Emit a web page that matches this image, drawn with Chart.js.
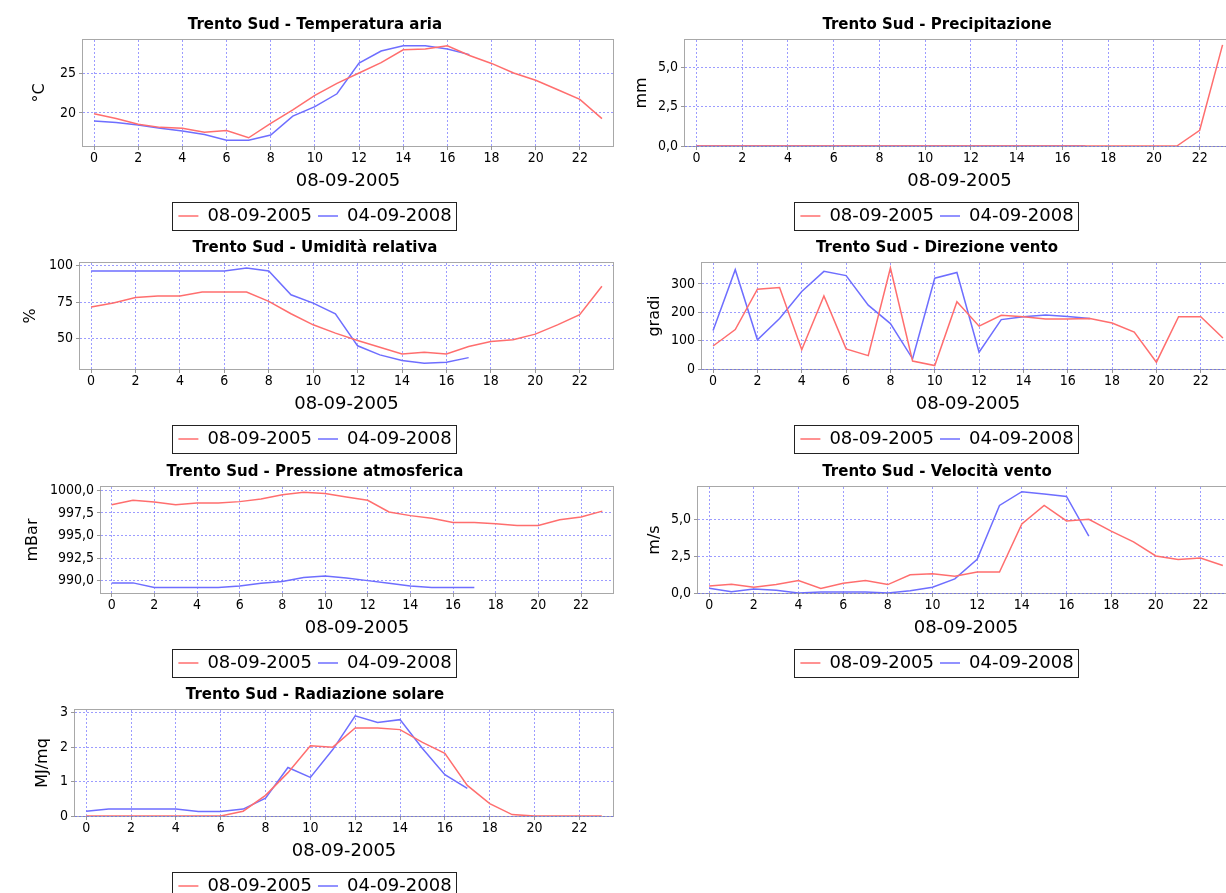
<!DOCTYPE html>
<html>
<head>
<meta charset="utf-8">
<script src="https://cdn.jsdelivr.net/npm/chart.js@4.4.1/dist/chart.umd.min.js"></script>
<style>
html,body{margin:0;padding:0;background:#fff;overflow:hidden;width:1226px;height:893px;}
#wrap{position:relative;width:1226px;height:893px;overflow:hidden;background:#fff;}
canvas{position:absolute;}
</style>
</head>
<body>
<div id="wrap">
<canvas id="c1"></canvas>
<canvas id="c3"></canvas>
<canvas id="c5"></canvas>
<canvas id="c7"></canvas>
<canvas id="c2"></canvas>
<canvas id="c4"></canvas>
<canvas id="c6"></canvas>
</div>
<script>
// ---------- DATA ----------
const station = 'Trento Sud';
const seriesNames = ['08-09-2005', '04-09-2008'];
const xAxisTitle = '08-09-2005';
const hours = [0,1,2,3,4,5,6,7,8,9,10,11,12,13,14,15,16,17,18,19,20,21,22,23];
const xTicks = [0,2,4,6,8,10,12,14,16,18,20,22];

const tempRed  = [19.9,19.3,18.6,18.2,18.1,17.6,17.8,16.9,18.7,20.4,22.2,23.7,25.0,26.3,27.9,28.0,28.4,27.2,26.2,25.0,24.1,22.9,21.7,19.3];
const tempBlue = [19.0,18.8,18.5,18.1,17.75,17.3,16.6,16.6,17.25,19.6,20.8,22.4,26.25,27.75,28.4,28.4,28.0,27.3];
const tempTicks = [20,25];

const precRed  = [0,0,0,0,0,0,0,0,0,0,0,0,0,0,0,0,0,0,0,0,0,0,1.0,6.43];
const precBlue = [0,0,0,0,0,0,0,0,0,0,0,0,0,0,0,0,0,0];
const precTicks = [0,2.5,5];

const humRed  = [71.6,74.3,78.2,79.1,79.1,81.9,81.9,81.9,75.5,67.0,59.4,53.7,48.6,44.0,39.4,40.6,39.4,44.5,47.9,49.1,53.0,59.4,66.3,85.8];
const humBlue = [96.3,96.3,96.3,96.3,96.3,96.3,96.3,98.4,96.3,80.0,74.3,67.0,45.0,38.8,34.9,33.0,33.7,36.9];
const humTicks = [50,75,100];

const dirRed  = [81,139,281,287,68,257,71,47,356,28,12,237,151,189,184,176,176,178,162,130,24,184,184,109];
const dirBlue = [136,350,103,178,273,344,329,225,160,36,320,340,59,174,184,190,185,178];
const dirTicks = [0,100,200,300];

const presRed  = [998.4,998.9,998.7,998.4,998.6,998.6,998.75,999.05,999.5,999.8,999.65,999.25,998.9,997.6,997.2,996.9,996.45,996.45,996.3,996.1,996.1,996.75,997.05,997.7];
const presBlue = [989.75,989.75,989.25,989.25,989.25,989.25,989.4,989.7,989.9,990.35,990.5,990.3,990.0,989.7,989.4,989.25,989.25,989.25];
const presTicks = [990,992.5,995,997.5,1000];

const windRed  = [0.48,0.59,0.39,0.57,0.84,0.30,0.66,0.84,0.57,1.23,1.30,1.14,1.42,1.42,4.68,5.94,4.89,5.0,4.2,3.47,2.51,2.28,2.37,1.87];
const windBlue = [0.32,0.09,0.27,0.18,0.0,0.07,0.07,0.07,0.0,0.16,0.39,0.96,2.28,5.94,6.87,6.71,6.55,3.86];
const windTicks = [0,2.5,5];

const radRed  = [0,0,0,0,0,0,0,0.14,0.6,1.26,2.04,2.0,2.56,2.56,2.51,2.14,1.82,0.89,0.36,0.04,0,0,0,0];
const radBlue = [0.14,0.2,0.2,0.2,0.2,0.13,0.13,0.2,0.52,1.41,1.12,1.93,2.91,2.72,2.8,1.96,1.2,0.8];
const radTicks = [0,1,2,3];

// ---------- STYLE ----------
const RED = 'rgb(255,110,110)';
const BLUE = 'rgb(110,110,255)';
const GRID = 'rgba(90,90,255,0.6)';
const FONT = '"DejaVu Sans", sans-serif';
const COND = '"DejaVu Sans Condensed", "DejaVu Sans", sans-serif';
Chart.defaults.font.family = FONT;
Chart.defaults.color = '#000';

const framePlugin = {
  id: 'frame',
  beforeDraw(chart) {
    const a = chart.chartArea, ctx = chart.ctx;
    ctx.save();
    ctx.strokeStyle = '#a8a8a8';
    ctx.lineWidth = 1;
    ctx.strokeRect(Math.round(a.left) - 0.5, Math.round(a.top) - 0.5, Math.round(a.right - a.left) + 1, Math.round(a.bottom - a.top) + 1);
    ctx.restore();
  }
};
const legendBoxPlugin = {
  id: 'legendBox',
  afterDraw(chart) {
    const hb = chart.legend && chart.legend.legendHitBoxes;
    if (!hb || !hb.length) return;
    const left = Math.min(...hb.map(h => h.left)) - 6;
    const right = Math.max(...hb.map(h => h.left + h.width)) + 5;
    const cy = hb[0].top + hb[0].height / 2;
    const ctx = chart.ctx;
    ctx.save();
    ctx.strokeStyle = '#222';
    ctx.lineWidth = 1;
    ctx.strokeRect(Math.round(left) + 0.5, Math.round(cy - 14) + 0.5, Math.round(right - left), 28);
    ctx.restore();
  }
};

function fmt(d) { return v => Number(v).toFixed(d).replace('.', ','); }

function makeChart(p) {
  const cv = document.getElementById(p.id);
  cv.width = p.w; cv.height = 235;
  cv.style.width = p.w + 'px'; cv.style.height = '235px';
  cv.style.left = p.x + 'px'; cv.style.top = p.y + 'px';
  const gridOpts = { color: GRID, lineWidth: 1, tickLength: 4, tickColor: '#999', tickWidth: 1, tickBorderDash: [10, 0] };
  const borderOpts = { display: false, dash: [2, 2] };
  new Chart(cv, {
    type: 'line',
    data: {
      labels: hours,
      datasets: [
        { label: seriesNames[0], data: p.red, borderColor: RED, backgroundColor: RED, borderWidth: 1.5, pointRadius: 0, tension: 0, fill: false },
        { label: seriesNames[1], data: p.blue, borderColor: BLUE, backgroundColor: BLUE, borderWidth: 1.5, pointRadius: 0, tension: 0, fill: false }
      ]
    },
    options: {
      responsive: false, animation: false, devicePixelRatio: 1,
      layout: { padding: 0 },
      events: [],
      plugins: {
        title: { display: true, text: station + ' - ' + p.title, color: '#000',
                 font: { family: FONT, size: 15, weight: 'bold' }, padding: { top: 16, bottom: 6 } },
        legend: { position: 'bottom',
                  labels: { usePointStyle: true, pointStyle: 'line', pointStyleWidth: 20, padding: 6,
                            color: '#000', font: { family: FONT, size: 18 } } },
        tooltip: { enabled: false }
      },
      scales: {
        x: {
          type: 'linear', min: -0.5, max: 23.5,
          afterBuildTicks: a => { a.ticks = xTicks.map(v => ({ value: v })); },
          afterFit: a => { a.height = 55; },
          ticks: { font: { family: COND, size: 14 }, color: '#000', padding: 0, autoSkip: false, maxRotation: 0, callback: v => String(v) },
          grid: gridOpts, border: borderOpts,
          title: { display: true, text: xAxisTitle, color: '#000', font: { family: FONT, size: 18 }, padding: { top: 0, bottom: 8.5 } }
        },
        y: {
          type: 'linear', min: p.min, max: p.max,
          afterBuildTicks: a => { a.ticks = p.ticks.map(v => ({ value: v })); },
          afterFit: a => { a.width = p.plotLeft; },
          ticks: { font: { family: COND, size: 14 }, color: '#000', padding: 3, callback: fmt(p.dec) },
          grid: gridOpts, border: borderOpts,
          title: { display: true, text: p.unit, color: '#000', font: { family: FONT, size: 16 }, padding: { top: p.yTitleX - 9.6, bottom: 0 } }
        },
        yR: {
          type: 'linear', position: 'right', display: true,
          grid: { display: false, drawTicks: false }, border: { display: false },
          ticks: { display: false },
          afterFit: a => { a.width = p.rightPad; }
        }
      }
    },
    plugins: [framePlugin, legendBoxPlugin]
  });
}

const L = { x: 0, w: 630, rightPad: 17 };
const R = { x: 613, w: 648, rightPad: 27 };
const charts = [
  Object.assign({ id: 'c1', y: 0,   title: 'Temperatura aria',     unit: '°C',    red: tempRed, blue: tempBlue, ticks: tempTicks, min: 15.87, max: 29.13, dec: 0, plotLeft: 83,  yTitleX: 39.5 }, L),
  Object.assign({ id: 'c3', y: 223, title: 'Umidità relativa',     unit: '%',     red: humRed,  blue: humBlue,  ticks: humTicks,  min: 29.1,  max: 101.8, dec: 0, plotLeft: 80,  yTitleX: 31 }, L),
  Object.assign({ id: 'c5', y: 447, title: 'Pressione atmosferica', unit: 'mBar', red: presRed, blue: presBlue, ticks: presTicks, min: 988.63, max: 1000.37, dec: 1, plotLeft: 101, yTitleX: 32.5 }, L),
  Object.assign({ id: 'c7', y: 670, title: 'Radiazione solare',    unit: 'MJ/mq', red: radRed,  blue: radBlue,  ticks: radTicks,  min: 0, max: 3.08, dec: 0, plotLeft: 75, yTitleX: 43 }, L),
  Object.assign({ id: 'c2', y: 0,   title: 'Precipitazione',       unit: 'mm',    red: precRed, blue: precBlue, ticks: precTicks, min: 0, max: 6.74, dec: 1, plotLeft: 72, yTitleX: 29.3 }, R),
  Object.assign({ id: 'c4', y: 223, title: 'Direzione vento',      unit: 'gradi', red: dirRed,  blue: dirBlue,  ticks: dirTicks,  min: 0, max: 373.5, dec: 0, plotLeft: 89, yTitleX: 41.6 }, R),
  Object.assign({ id: 'c6', y: 447, title: 'Velocità vento',       unit: 'm/s',   red: windRed, blue: windBlue, ticks: windTicks, min: 0, max: 7.19, dec: 1, plotLeft: 85, yTitleX: 42 }, R)
];
charts.forEach(makeChart);
</script>
</body>
</html>
